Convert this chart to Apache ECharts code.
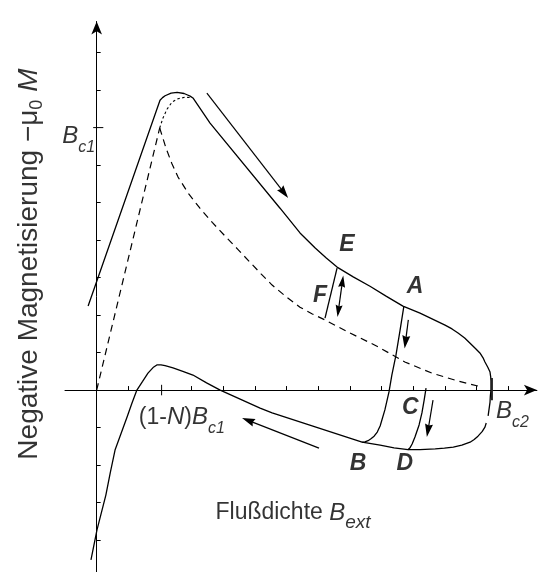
<!DOCTYPE html>
<html>
<head>
<meta charset="utf-8">
<script src="https://cdn.jsdelivr.net/npm/echarts@6/dist/echarts.min.js"></script>
<style>
  html, body { margin: 0; padding: 0; background: #fff; }
  #chart { width: 544px; height: 572px; }
</style>
</head>
<body>
<div id="chart"></div>
<script>
// Units: one tick spacing on each axis. x = external flux density B_ext, y = -mu0 M.

// Magnetisation curve while the field is increased (Meissner rise, peak, fall to B_c2)
const upperBranch = [
  [-0.27, 2.24], [2.0, 7.73], [2.08, 7.8], [2.16, 7.85], [2.35, 7.92],
  [2.54, 7.94], [2.76, 7.91], [2.87, 7.87], [2.95, 7.84], [3.04, 7.79], [3.58, 7.12], [5.79, 4.85],
  [6.42, 4.19], [6.9, 3.79], [7.25, 3.52], [7.59, 3.28], [8.1, 3.02], [8.63, 2.77], [9.15, 2.5],
  [9.67, 2.24], [10.21, 2.05], [11.0, 1.73], [11.22, 1.63], [11.41, 1.52], [11.62, 1.39],
  [11.79, 1.25], [11.96, 1.11], [12.1, 0.99], [12.2, 0.86], [12.26, 0.75], [12.35, 0.61],
  [12.42, 0.48], [12.44, 0.36], [12.45, 0.24], [12.45, 0], [12.43, -0.16], [12.42, -0.32], [12.36, -0.69]
];
// Curve while the field is lowered again from B_c2
const lowerBranch = [
  [12.3, -0.88], [12.26, -0.99], [12.17, -1.11], [12.04, -1.23], [11.92, -1.32], [11.79, -1.39],
  [11.53, -1.47], [11.26, -1.52], [10.98, -1.55], [10.69, -1.57], [10.21, -1.59], [9.83, -1.59],
  [9.39, -1.54], [8.95, -1.47], [8.38, -1.39], [5.54, -0.61], [5.16, -0.48], [4.53, -0.24],
  [3.9, 0], [3.47, 0.19], [3.04, 0.4], [2.72, 0.5], [2.41, 0.59], [2.16, 0.65], [2.03, 0.67],
  [1.9, 0.67], [1.78, 0.6], [1.62, 0.45], [1.45, 0.23], [1.27, 0], [1.11, -0.36], [0.96, -0.72],
  [0.77, -1.16], [0.58, -1.6], [0.43, -2.2], [0.29, -2.8], [0.01, -3.73], [-0.18, -4.53]
];
// Reversible (ideal) curve: linear up to B_c1, then falling to B_c2
const idealRise = [[0, 0], [1.99, 6.99]];
const idealFall = [
  [1.99, 6.99], [2.09, 6.72], [2.19, 6.45], [2.37, 6.05], [2.57, 5.68], [2.9, 5.24], [3.26, 4.85],
  [3.65, 4.47], [4.05, 4.11], [4.45, 3.76], [4.84, 3.41], [5.19, 3.1], [5.54, 2.8], [5.98, 2.49],
  [6.42, 2.21], [6.81, 2.03], [7.21, 1.87], [8.0, 1.52], [8.85, 1.17], [9.73, 0.75],
  [10.59, 0.45], [11.41, 0.24], [12.17, 0.08]
];
// Overshoot of the ideal curve above B_c1
const idealOvershoot = [
  [1.99, 6.99], [2.09, 7.25], [2.22, 7.49], [2.38, 7.68], [2.57, 7.77], [2.79, 7.81], [2.95, 7.8]
];
// Minor loops
const loopAB = [
  [9.7, 2.24], [9.58, 1.6], [9.45, 0.93], [9.32, 0.4], [9.23, -0.05], [9.1, -0.53],
  [8.95, -0.96], [8.86, -1.12], [8.76, -1.23], [8.66, -1.3], [8.57, -1.35], [8.47, -1.38], [8.38, -1.39]
];
const loopCD = [
  [10.4, 0.05], [10.34, -0.27], [10.27, -0.61], [10.18, -0.93], [10.05, -1.25],
  [9.96, -1.44], [9.9, -1.53], [9.83, -1.59]
];
const loopEF = [[7.59, 3.25], [7.21, 1.92]];

// Direction arrows (start, end)
const arrowsOneWay = [
  [[3.48, 7.92], [5.92, 5.26]],
  [[7.02, -1.55], [4.78, -0.81]],
  [[9.84, 1.87], [9.75, 1.28]],
  [[10.62, -0.27], [10.46, -1.08]]
];
const arrowsTwoWay = [[[7.76, 2.9], [7.63, 2.11]]];

// Ticks
const xTicks = [1, 3, 4, 5, 6, 7, 8, 9, 10, 11, 12, 13];
const yTicks = [-4, -3, -2, -1, 1, 2, 3, 4, 5, 6, 8, 9];
const markBc1 = 7;          // y position of B_c1
const markBc1N = 2.05;      // x position of (1-N) B_c1
const markBc2 = 12.48;      // x position of B_c2

// Point letters
const pointNames = ['E', 'F', 'A', 'B', 'C', 'D'];
const pointAt = [[7.9, 3.87], [7.05, 2.53], [10.05, 2.75], [8.25, -1.95], [9.9, -0.48], [9.73, -1.95]];

// Axis marks and titles
const textItems = [
  { value: [-0.57, 6.77], text: '{b|B}{s|c1}' },
  { value: [2.69, -0.73], text: '{n|(1-}{b|N}{n|)}{b|B}{s|c1}' },
  { value: [13.13, -0.56], text: '{b|B}{s|c2}' },
  { value: [6.2, -3.28], text: '{n|Flußdichte }{b|B}{e|ext}' }
];
const yTitle = { value: [-2.14, 3.36], text: '{n|Negative Magnetisierung −μ}{z|0}{n| }{b|M}' };

const FONT = '"Liberation Sans", Arial, Helvetica, sans-serif';
const INK = '#000';
// slim filled arrow head, tip pointing up before rotation
const ARROW = 'path://M0,0 L4,13 L0,11.5 L-4,13 Z';

function curve(data, opts) {
  return Object.assign({
    type: 'line', data: data, symbol: 'none', showSymbol: false, silent: true,
    lineStyle: { color: INK, width: 1.3 }, smooth: false, z: 3
  }, opts || {});
}

const richBase = {
  n: { fontFamily: FONT, fontSize: 23, lineHeight: 23, color: INK },
  b: { fontFamily: FONT, fontSize: 24, lineHeight: 24, fontStyle: 'italic', color: INK },
  s: { fontFamily: FONT, fontSize: 16, lineHeight: 16, fontStyle: 'italic', color: INK, padding: [22, 0, 0, 0] },
  e: { fontFamily: FONT, fontSize: 19, lineHeight: 19, fontStyle: 'italic', color: INK, padding: [20, 0, 0, 0] }
};
const richTitleY = {
  n: { fontFamily: FONT, fontSize: 28, lineHeight: 28, color: INK },
  b: { fontFamily: FONT, fontSize: 28, lineHeight: 28, fontStyle: 'italic', color: INK },
  z: { fontFamily: FONT, fontSize: 18, lineHeight: 18, color: INK, padding: [16, 0, 0, 0] }
};

const chart = echarts.init(document.getElementById('chart'), null, { renderer: 'canvas' });

chart.setOption({
  animation: false,
  backgroundColor: '#fff',
  grid: { left: 65, right: 7.1, top: 21.5, bottom: 0.1, containLabel: false },
  xAxis: {
    type: 'value', min: -1, max: 13.9,
    axisLine: { onZero: true, symbol: ['none', 'arrow'], symbolSize: [8, 13], lineStyle: { color: INK, width: 1 } },
    axisTick: { show: true, inside: true, length: 4, customValues: xTicks, lineStyle: { color: INK, width: 1 } },
    axisLabel: { show: false },
    splitLine: { show: false }
  },
  yAxis: {
    type: 'value', min: -4.85, max: 9.83,
    axisLine: { onZero: true, symbol: ['none', 'arrow'], symbolSize: [8, 13], lineStyle: { color: INK, width: 1 } },
    axisTick: { show: true, inside: true, length: 4, customValues: yTicks, lineStyle: { color: INK, width: 1 } },
    axisLabel: { show: false },
    splitLine: { show: false }
  },
  series: [
    curve(upperBranch),
    curve(lowerBranch),
    curve(idealRise, { lineStyle: { color: INK, width: 1.2, type: [7, 5] } }),
    curve(idealFall, { lineStyle: { color: INK, width: 1.2, type: [7, 5] } }),
    curve(idealOvershoot, { lineStyle: { color: INK, width: 1.1, type: [2.5, 2.5] } }),
    curve(loopAB),
    curve(loopCD),
    curve(loopEF),
    // Longer marks at B_c1, (1-N) B_c1 and B_c2
    curve([[-0.11, markBc1], [0.21, markBc1]], { lineStyle: { color: INK, width: 1 } }),
    curve([[markBc1N, 0.14], [markBc1N, -0.14]], { lineStyle: { color: INK, width: 1 } }),
    curve([[markBc2, 0.32], [markBc2, -0.27]], { lineStyle: { color: '#222', width: 2 } }),
    {
      type: 'lines', coordinateSystem: 'cartesian2d', silent: true, z: 4,
      symbol: ['none', ARROW], symbolSize: [[8, 13], [8, 13]],
      lineStyle: { color: INK, width: 1.2, opacity: 1 },
      data: arrowsOneWay.map(c => ({ coords: c }))
    },
    {
      type: 'lines', coordinateSystem: 'cartesian2d', silent: true, z: 4,
      symbol: [ARROW, ARROW], symbolSize: [[7, 12], [7, 12]],
      lineStyle: { color: INK, width: 1.2, opacity: 1 },
      data: arrowsTwoWay.map(c => ({ coords: c }))
    },
    {
      type: 'scatter', silent: true, clip: false, symbolSize: 1, z: 5,
      itemStyle: { color: 'rgba(0,0,0,0)' },
      data: pointNames.map((n, i) => ({ name: n, value: pointAt[i] })),
      label: {
        show: true, position: 'inside', formatter: '{b}', color: INK,
        fontFamily: FONT, fontSize: 23, fontWeight: 'bold', fontStyle: 'italic'
      }
    },
    {
      type: 'scatter', silent: true, clip: false, symbolSize: 1, z: 5,
      itemStyle: { color: 'rgba(0,0,0,0)' },
      data: textItems.map(t => ({ value: t.value, text: t.text })),
      label: {
        show: true, position: 'inside', color: INK,
        formatter: p => p.data.text, rich: richBase
      }
    },
    {
      type: 'scatter', silent: true, clip: false, symbolSize: 1, z: 5,
      itemStyle: { color: 'rgba(0,0,0,0)' },
      data: [{ value: yTitle.value, text: yTitle.text }],
      label: {
        show: true, position: 'inside', rotate: 90, color: INK,
        formatter: p => p.data.text, rich: richTitleY
      }
    }
  ]
});
</script>
</body>
</html>
